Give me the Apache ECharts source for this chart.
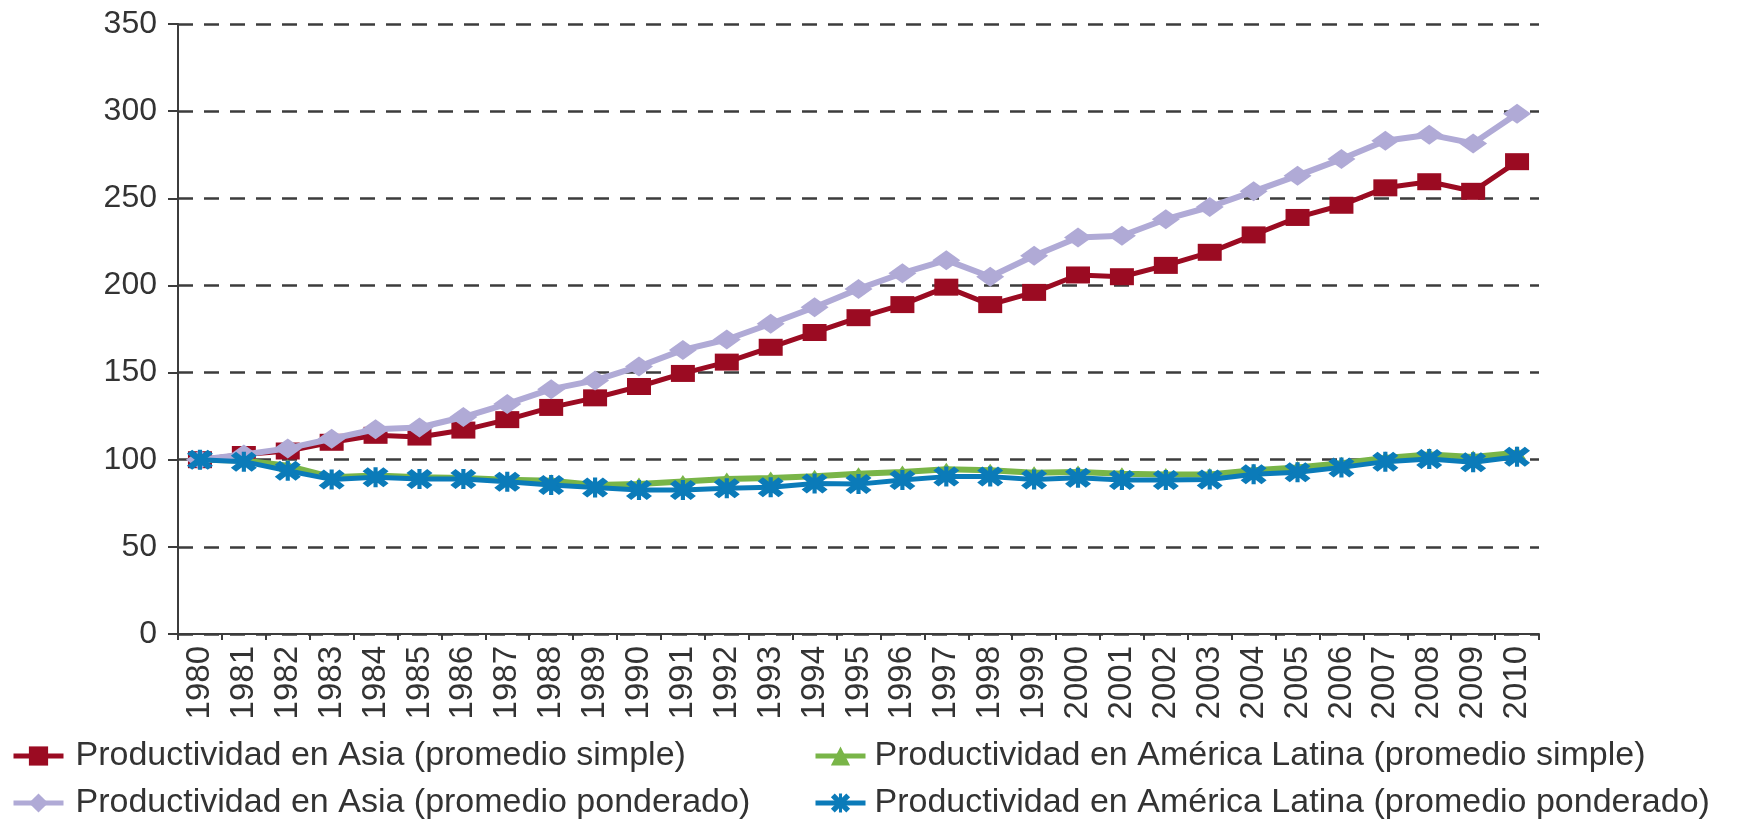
<!DOCTYPE html>
<html>
<head>
<meta charset="utf-8">
<title>Productividad Asia / América Latina</title>
<script src="https://cdn.jsdelivr.net/npm/echarts@6/dist/echarts.min.js"></script>
<style>
  html, body { margin: 0; padding: 0; background: #fff; }
  #chart { width: 1746px; height: 819px; }
</style>
</head>
<body>
<div id="chart"></div>
<script>
// años (eje x)
var years = ['1980', '1981', '1982', '1983', '1984', '1985', '1986', '1987', '1988', '1989',
  '1990', '1991', '1992', '1993', '1994', '1995', '1996', '1997', '1998', '1999',
  '2000', '2001', '2002', '2003', '2004', '2005', '2006', '2007', '2008', '2009', '2010'];

var yTicks = [0, 50, 100, 150, 200, 250, 300, 350];

var asiaSimple = [100, 103, 105, 110, 114, 113, 117, 123, 130, 135.5,
  142, 149.5, 156, 164.5, 173, 181.5, 189, 199, 189, 196,
  206, 205, 211.5, 219, 229, 239, 246, 256, 259.5, 254, 271];

var asiaPonderado = [100, 103, 106.5, 112, 117.5, 118.5, 124.5, 132, 140.5, 145.5,
  153.5, 163, 169, 178, 187.5, 198, 207, 214.5, 205, 217,
  227.5, 228.5, 238, 245, 254, 263, 272.5, 283, 286.5, 281.5, 298.5];

var alSimple = [100, 99.5, 96.5, 90, 91, 90, 89.5, 88.5, 88, 85.5,
  86, 87.5, 89, 89.5, 90.5, 92, 93, 94.5, 94, 92.5,
  93, 92, 91.5, 91.5, 94, 95.5, 98, 101, 103, 101.5, 104];

var alPonderado = [100, 98.9, 93.7, 88.7, 89.9, 88.9, 88.9, 87.4, 85.5, 84,
  82.6, 82.6, 83.6, 84.2, 86.4, 86, 88.4, 90.3, 90.3, 88.7,
  89.7, 88.4, 88.4, 88.7, 91.6, 92.8, 95.6, 98.9, 100.4, 98.5, 101.7];

var names = [
  'Productividad en Asia (promedio simple)',
  'Productividad en América Latina (promedio simple)',
  'Productividad en Asia (promedio ponderado)',
  'Productividad en América Latina (promedio ponderado)'
];

// asterisco (x con barra vertical) para la serie ponderada de América Latina
var starPath = 'path://M0,2 L2,0 L5,3 L8,0 L10,2 L7,5 L10,8 L8,10 L5,7 L2,10 L0,8 L3,5 Z M4.2,0 L5.8,0 L5.8,10 L4.2,10 Z';

var axisColor = '#3c3c3c';
var fontAxis = 'Liberation Sans';

var chart = echarts.init(document.getElementById('chart'));

function legendBlock(items, left, textPad) {
  return {
    data: items,
    orient: 'vertical',
    left: left,
    top: 739,
    height: 120,
    padding: 0,
    itemGap: 13,
    itemWidth: 50,
    itemHeight: 24,
    lineStyle: { width: 5 },
    textStyle: {
      fontFamily: fontAxis,
      fontSize: 34,
      lineHeight: 32,
      color: '#333',
      padding: [0, 0, 0, textPad]
    }
  };
}

chart.setOption({
  backgroundColor: '#fff',
  animation: false,
  grid: {
    left: 178,
    right: 207,
    top: 24,
    bottom: 185
  },
  legend: [
    legendBlock([names[0], names[2]], 11, 7),
    legendBlock([names[1], names[3]], 813, 4)
  ],
  xAxis: {
    type: 'category',
    data: years,
    boundaryGap: true,
    axisLine: { lineStyle: { color: axisColor, width: 2 } },
    axisTick: { show: true, interval: 0, length: 6, lineStyle: { color: axisColor, width: 2 } },
    axisLabel: {
      interval: 0,
      rotate: 90,
      margin: 12,
      fontFamily: fontAxis,
      fontSize: 33,
      color: '#333'
    },
    splitLine: { show: false }
  },
  yAxis: {
    type: 'value',
    min: yTicks[0],
    max: yTicks[yTicks.length - 1],
    interval: yTicks[1] - yTicks[0],
    axisLine: { show: true, lineStyle: { color: axisColor, width: 2 } },
    axisTick: { show: true, length: 10, lineStyle: { color: axisColor, width: 2 } },
    axisLabel: {
      margin: 21,
      fontFamily: fontAxis,
      fontSize: 32,
      color: '#333'
    },
    splitLine: {
      show: true,
      lineStyle: { color: axisColor, width: 2.5, type: [15, 11] }
    }
  },
  series: [{
    name: names[0],
    type: 'line',
    data: asiaSimple,
    symbol: 'rect',
    symbolSize: [24, 17],
    lineStyle: { width: 5, color: '#9b0b22' },
    itemStyle: { color: '#9b0b22' },
    z: 2
  }, {
    name: names[1],
    type: 'line',
    data: alSimple,
    symbol: 'triangle',
    symbolSize: [18, 13],
    lineStyle: { width: 6, color: '#79b548' },
    itemStyle: { color: '#79b548' },
    z: 3
  }, {
    name: names[2],
    type: 'line',
    data: asiaPonderado,
    symbol: 'diamond',
    symbolSize: [28, 20],
    lineStyle: { width: 6, color: '#b0aad6' },
    itemStyle: { color: '#b0aad6' },
    z: 4
  }, {
    name: names[3],
    type: 'line',
    data: alPonderado,
    symbol: starPath,
    symbolSize: [26, 20],
    lineStyle: { width: 5, color: '#0b7bb9' },
    itemStyle: { color: '#0b7bb9' },
    z: 5
  }]
});
</script>
</body>
</html>
